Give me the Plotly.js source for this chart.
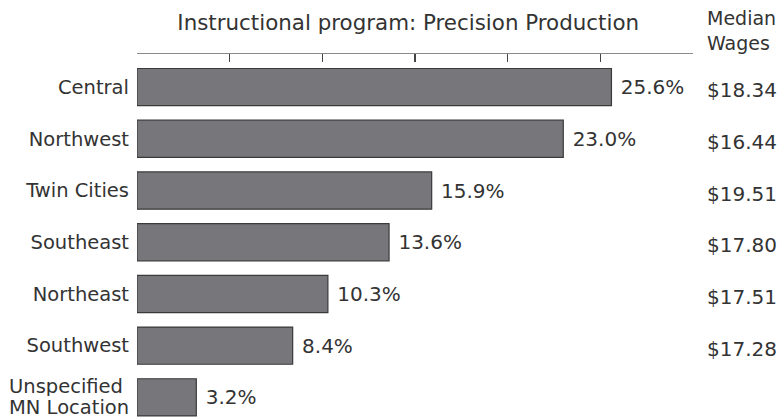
<!DOCTYPE html>
<html>
<head>
<meta charset="utf-8">
<script src="https://cdn.plot.ly/plotly-3.0.1.min.js"></script>
<style>html,body{margin:0;padding:0;background:#fff;}#chart{width:779px;height:417px;}</style>
</head>
<body>
<div id="chart"></div>
<script>
const regions = ["Central", "Northwest", "Twin Cities", "Southeast", "Northeast", "Southwest", "Unspecified<br>MN Location"];
const shares = [25.6, 23.0, 15.9, 13.6, 10.3, 8.4, 3.2];
const wages = ["$18.34", "$16.44", "$19.51", "$17.80", "$17.51", "$17.28"];
const titleText = "Instructional program: Precision Production";
const wageHeader = "Median<br>Wages";

const FONT = "DejaVu Sans, Verdana, sans-serif";
const TXT = "#333333";

const trace = {
  type: "bar",
  orientation: "h",
  y: regions,
  x: shares,
  text: shares.map(v => v.toFixed(1) + "%"),
  texttemplate: "\u00a0%{text}",
  textposition: "outside",
  constraintext: "none",
  cliponaxis: false,
  textfont: {family: FONT, size: 20, color: TXT},
  marker: {color: "#77777b", line: {color: "#3a3a3a", width: 1.2}},
  width: 0.72,
  hoverinfo: "skip"
};

const annotations = wages.map((w, i) => ({
  xref: "paper", yref: "y",
  x: 1.0216, y: regions[i],
  xanchor: "left", yanchor: "middle",
  yshift: -3,
  text: w, showarrow: false,
  font: {family: FONT, size: 20, color: TXT}
}));
annotations.push({
  xref: "paper", yref: "paper",
  x: 1.0216, y: 1.135,
  xanchor: "left", yanchor: "top",
  align: "left",
  text: wageHeader, showarrow: false,
  font: {family: FONT, size: 19, color: TXT}
});

// Two-line category label drawn with tighter line spacing, left-aligned as in the reference
const lastCat = regions[regions.length - 1];
lastCat.split("<br>").forEach((line, k) => {
  annotations.push({
    xref: "paper", yref: "y",
    x: -0.232, y: lastCat,
    xanchor: "left", yanchor: "middle",
    yshift: k === 0 ? 11.5 : -9.5,
    borderpad: 0,
    height: 20,
    text: line, showarrow: false,
    font: {family: FONT, size: 19.5, color: TXT}
  });
});

const layout = {
  width: 779, height: 417,
  margin: {l: 137, r: 86, t: 54, b: 0, pad: 0},
  paper_bgcolor: "#ffffff",
  plot_bgcolor: "#ffffff",
  showlegend: false,
  font: {family: FONT, color: TXT},
  title: {
    text: titleText,
    font: {family: FONT, size: 21.4, color: TXT},
    xref: "container", yref: "container",
    x: 0.524, xanchor: "center",
    y: 0.945, yanchor: "middle"
  },
  xaxis: {
    side: "top",
    range: [0, 30],
    dtick: 5,
    showline: true, linecolor: "#8a8a8a", linewidth: 1.5,
    ticks: "inside", ticklen: 8, tickcolor: "#444444", tickwidth: 1.2,
    showticklabels: false,
    showgrid: false, zeroline: false,
    fixedrange: true
  },
  yaxis: {
    type: "category",
    range: [6.38, -0.64],
    tickvals: regions.slice(0, regions.length - 1),
    showline: false, showgrid: false, zeroline: false,
    ticks: "",
    ticklabelstandoff: 7,
    tickfont: {family: FONT, size: 19.5, color: TXT},
    fixedrange: true
  },
  annotations: annotations
};

Plotly.newPlot("chart", [trace], layout, {displayModeBar: false, staticPlot: true});
</script>
</body>
</html>
